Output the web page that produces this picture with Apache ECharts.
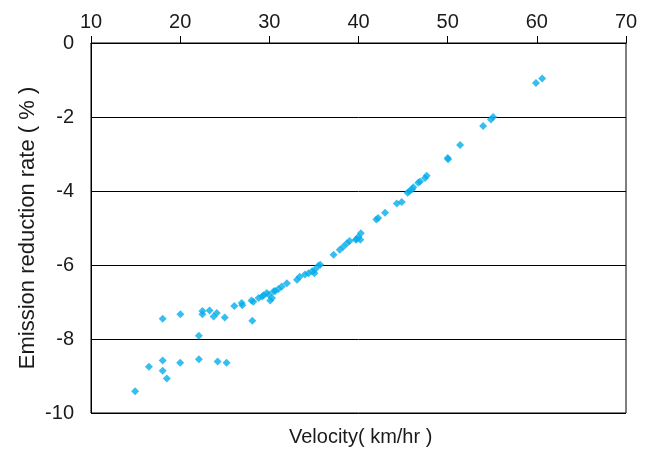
<!DOCTYPE html>
<html lang="en">
	<head>
		<meta charset="UTF-8">
		<title></title>
		<style type="text/css">
			html,
			body {
				width: 100%;
				height: 100%;
				margin: 0;
				padding: 0;
				background: #fff;
			}

			#main {
				width: 645px;
				height: 450px;
			}
		</style>
	</head>
	<body>
		<div id="main"></div>

		<script src="https://cdn.jsdelivr.net/npm/echarts@6/dist/echarts.min.js" type="text/javascript" charset="utf-8"></script>
		<script type="text/javascript">
			// velocity (km/hr)
			let velocity = [
				14.95, 16.5, 18.04, 18.04, 18.5, 18.04, 20.0, 20.02, 22.1, 22.1,
				22.5, 22.5, 23.3, 23.75, 24.1, 24.2, 25.0, 25.2, 26.07, 26.9,
				26.97, 28.0, 28.09, 28.2, 28.8, 29.2, 29.35, 29.7, 29.95, 30.1,
				30.3, 30.5, 30.66, 31.03, 31.4, 31.97, 33.1, 33.4, 34.0, 34.4,
				34.8, 35.1, 35.06, 35.5, 35.7, 37.2, 37.9, 38.3, 38.7, 39.0,
				39.7, 39.8, 39.99, 40.26, 40.2, 42.0, 42.2, 42.98, 44.3, 44.85,
				45.5, 45.7, 46.0, 46.15, 46.7, 46.9, 47.46, 47.65, 50.0, 50.05,
				51.4, 53.98, 54.85, 55.1, 59.9, 60.6
			];
			// emission reduction rate (%)
			let reduction = [
				-9.41, -8.75, -8.58, -8.86, -9.07, -7.45, -8.64, -7.33, -7.91, -8.55,
				-7.24, -7.33, -7.23, -7.39, -7.30, -8.61, -7.42, -8.64, -7.11, -7.03,
				-7.09, -6.96, -7.51, -6.99, -6.89, -6.85, -6.82, -6.76, -6.80, -6.96,
				-6.89, -6.71, -6.70, -6.65, -6.58, -6.49, -6.40, -6.32, -6.26, -6.22,
				-6.17, -6.13, -6.22, -6.02, -5.99, -5.72, -5.59, -5.51, -5.41, -5.35,
				-5.32, -5.30, -5.24, -5.14, -5.32, -4.77, -4.73, -4.59, -4.34, -4.30,
				-4.05, -4.01, -3.95, -3.90, -3.78, -3.74, -3.65, -3.59, -3.11, -3.14,
				-2.76, -2.24, -2.07, -2.00, -1.08, -0.96
			];

			let seriesData = velocity.map((v, i) => [v, reduction[i]]);

			let fontFamily = 'Liberation Sans, Arial, sans-serif';
			let textColor = '#1a1a1a';

			var myChart = echarts.init(document.getElementById('main'));
			var option = {
				animation: false,
				grid: {
					left: 91,
					right: 19,
					top: 43,
					bottom: 37,
					outerBoundsMode: 'none',
					show: true,
					borderColor: '#000',
					borderWidth: 1
				},
				graphic: [{
					type: 'text',
					left: 289,
					top: 427,
					style: {
						text: 'Velocity( km/hr )',
						font: '20px ' + fontFamily,
						fill: textColor
					}
				}],
				xAxis: {
					type: 'value',
					position: 'top',
					min: 10,
					max: 70,
					interval: 10,
					axisLine: {
						lineStyle: { color: '#000', width: 1 }
					},
					axisTick: {
						show: true,
						inside: false,
						length: 7,
						lineStyle: { color: '#000' }
					},
					axisLabel: {
						margin: 11,
						fontSize: 20,
						fontFamily: fontFamily,
						color: textColor
					},
					splitLine: { show: false }
				},
				yAxis: {
					type: 'value',
					min: -10,
					max: 0,
					interval: 2,
					name: 'Emission reduction rate ( % )',
					nameLocation: 'middle',
					nameGap: 52,
					nameMoveOverlap: false,
					nameTextStyle: {
						fontSize: 22,
						fontFamily: fontFamily,
						color: textColor
					},
					axisLine: {
						show: true,
						lineStyle: { color: '#000', width: 1 }
					},
					axisTick: { show: false },
					axisLabel: {
						margin: 17,
						fontSize: 20,
						fontFamily: fontFamily,
						color: textColor
					},
					splitLine: {
						show: true,
						lineStyle: { color: '#000', width: 1 }
					}
				},
				series: [{
					type: 'scatter',
					symbol: 'diamond',
					symbolSize: 8,
					itemStyle: {
						color: '#05aeeb'
					},
					data: seriesData
				}]
			};

			myChart.setOption(option);

			window.onresize = function() {
				myChart.resize();
			}
		</script>
	</body>
</html>
